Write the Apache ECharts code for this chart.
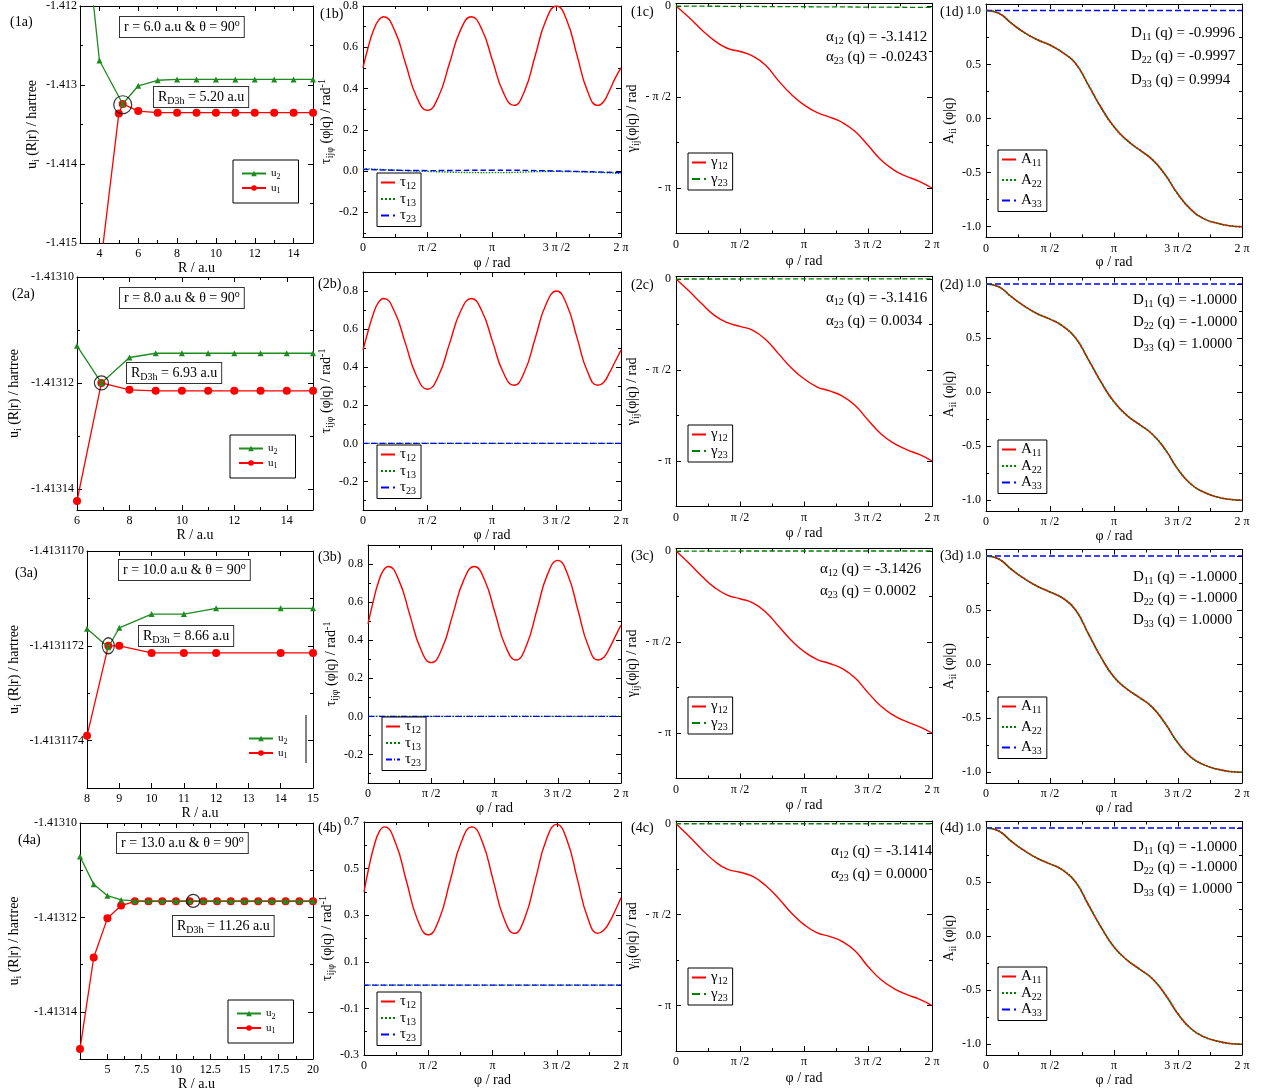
<!DOCTYPE html>
<html><head><meta charset="utf-8">
<script src="https://cdn.jsdelivr.net/npm/echarts/dist/echarts.min.js"></script>
<style>html,body{margin:0;padding:0;background:#fff}#c{width:1265px;height:1092px}</style>
</head><body><div id="c"></div>
<script>
// ---------------- DATA ----------------
// Column (a): adiabatic PES u1, u2 vs R
const R_u2_1 = [3,4,5.2,6,7,8,9,10,11,12,13,14,15];
const u2_1 = [-1.41035,-1.41269,-1.41324,-1.41301,-1.41294,-1.41293,-1.41293,-1.41293,-1.41293,-1.41293,-1.41293,-1.41293,-1.41293];
const R_u1_1 = [4,5,5.2,6,7,8,9,10,11,12,13,14,15];
const u1_1 = [-1.4154,-1.41336,-1.41324,-1.41333,-1.41335,-1.41335,-1.41335,-1.41335,-1.41335,-1.41335,-1.41335,-1.41335,-1.41335];
const R_2 = [6,6.93,8,9,10,11,12,13,14,15];
const u2_2 = [-1.413113,-1.41312,-1.4131152,-1.4131144,-1.4131144,-1.4131144,-1.4131144,-1.4131144,-1.4131144,-1.4131144];
const u1_2 = [-1.4131423,-1.41312,-1.4131213,-1.4131215,-1.4131215,-1.4131215,-1.4131215,-1.4131215,-1.4131215,-1.4131215];
const R_3 = [8,8.66,9,10,11,12,14,15];
const u2_3 = [-1.413117164,-1.413117203,-1.413117162,-1.413117133,-1.413117133,-1.413117121,-1.413117121,-1.413117121];
const u1_3 = [-1.41311739,-1.4131172,-1.4131172,-1.413117215,-1.413117215,-1.413117215,-1.413117215,-1.413117215];
const R_4 = [3,4,5,6,7,8,9,10,11,12,13,14,15,16,17,18,19,20];
const u2_4 = [-1.4131071,-1.413113,-1.4131154,-1.4131163,-1.4131165,-1.4131165,-1.4131165,-1.4131165,-1.4131165,-1.4131165,-1.4131165,-1.4131165,-1.4131165,-1.4131165,-1.4131165,-1.4131165,-1.4131165,-1.4131165];
const u1_4 = [-1.4131479,-1.4131285,-1.4131202,-1.4131175,-1.4131166,-1.4131166,-1.4131166,-1.4131166,-1.4131166,-1.4131166,-1.4131166,-1.4131166,-1.4131166,-1.4131166,-1.4131166,-1.4131166,-1.4131166,-1.4131166];
const D3h_R = [5.2, 6.93, 8.66, 11.26];
const D3h_u = [-1.41325, -1.41312, -1.4131172, -1.4131165];
const r_vals = ['6.0','8.0','10.0','13.0'];
const RD3h_txt = ['5.20','6.93','8.66','11.26'];

// Column (b): NACT tau vs phi (phi in units of pi)
const PHI_T = [0,0.04,0.08,0.12,0.16,0.245,0.33,0.415,0.5,0.585,0.67,0.755,0.84,0.9225,1.005,1.0875,1.17,1.2525,1.335,1.4175,1.5,1.58,1.66,1.74,1.82,1.865,1.91,1.955,2.0];
const tau12_1 = [0.50,0.60,0.68,0.73,0.748,0.682,0.521,0.360,0.294,0.360,0.521,0.682,0.748,0.685,0.533,0.381,0.318,0.388,0.559,0.730,0.800,0.730,0.559,0.388,0.318,0.336,0.389,0.45,0.50];
const tau12_2 = [0.49,0.59,0.68,0.74,0.761,0.691,0.5225,0.354,0.284,0.354,0.5225,0.691,0.761,0.694,0.533,0.372,0.305,0.377,0.5525,0.728,0.80,0.728,0.5525,0.377,0.305,0.32,0.37,0.43,0.49];
const tau12_3 = [0.486,0.60,0.70,0.765,0.787,0.713,0.5345,0.356,0.282,0.356,0.5345,0.713,0.787,0.715,0.5415,0.368,0.296,0.372,0.5575,0.743,0.819,0.743,0.5575,0.372,0.296,0.31,0.36,0.42,0.48];
const tau12_4 = [0.40,0.51,0.60,0.66,0.679,0.611,0.447,0.283,0.215,0.283,0.447,0.611,0.679,0.612,0.4505,0.289,0.222,0.290,0.456,0.622,0.690,0.622,0.456,0.290,0.222,0.235,0.27,0.32,0.375];
const PHI_S = [0,0.5,1,1.5,2];
const tau13_1 = [0.012,-0.002,-0.008,-0.002,-0.012];
const tau23_1 = [0.008,0.002,0.004,0.0,-0.008];
const tau_zero = [0,0,0,0,0];

// Column (c): ADT angle gamma vs phi (both in units of pi)
const PHI_G = [0,0.1,0.2,0.3,0.4,0.5,0.6,0.7,0.8,0.9,1.0,1.1,1.2,1.3,1.4,1.5,1.6,1.7,1.8,1.9,2.0];
const g12_1 = [0,-0.062,-0.13,-0.19,-0.232,-0.25,-0.275,-0.325,-0.41,-0.485,-0.543,-0.585,-0.61,-0.64,-0.69,-0.765,-0.845,-0.9,-0.936,-0.963,-1.0];
const g12_2 = [0,-0.065,-0.135,-0.2,-0.24,-0.26,-0.282,-0.332,-0.41,-0.487,-0.548,-0.592,-0.615,-0.644,-0.695,-0.775,-0.85,-0.902,-0.937,-0.964,-1.0];
const g12_3 = [0,-0.066,-0.137,-0.2,-0.242,-0.262,-0.285,-0.335,-0.412,-0.49,-0.552,-0.595,-0.618,-0.646,-0.698,-0.778,-0.852,-0.903,-0.938,-0.965,-1.0];
const g12_4 = [0,-0.068,-0.14,-0.205,-0.25,-0.267,-0.29,-0.34,-0.41,-0.49,-0.555,-0.599,-0.62,-0.648,-0.70,-0.785,-0.857,-0.905,-0.939,-0.965,-1.0];
const PHI_E = [0,2];
const g23_1 = [0,-0.0077];
const g23_2 = [0,0.0011];
const g23_3 = [0,0.0001];
const g23_4 = [0,0];
const alpha12 = ['-3.1412','-3.1416','-3.1426','-3.1414'];
const alpha23 = ['-0.0243','0.0034','0.0002','0.0000'];

// Column (d): ADT matrix diagonal elements
const a11_1 = [1.0,0.975,0.88,0.795,0.73,0.68,0.61,0.51,0.31,0.10,-0.075,-0.20,-0.29,-0.38,-0.52,-0.70,-0.84,-0.925,-0.966,-0.992,-1.0];
const a11_2 = [1.0,0.974,0.88,0.795,0.725,0.675,0.61,0.50,0.30,0.09,-0.09,-0.215,-0.30,-0.39,-0.53,-0.715,-0.85,-0.925,-0.968,-0.992,-1.0];
const a11_3 = [1.0,0.972,0.875,0.79,0.72,0.667,0.61,0.50,0.28,0.06,-0.12,-0.23,-0.31,-0.40,-0.55,-0.73,-0.86,-0.93,-0.97,-0.993,-1.0];
const a11_4 = [1.0,0.972,0.875,0.79,0.72,0.668,0.61,0.50,0.29,0.08,-0.10,-0.22,-0.305,-0.395,-0.54,-0.72,-0.855,-0.93,-0.97,-0.993,-1.0];
const a22_1 = a11_1, a22_2 = a11_2, a22_3 = a11_3, a22_4 = a11_4;
const a33_1 = [1,0.9994];
const a33_n = [1,1];
const D11 = ['-0.9996','-1.0000','-1.0000','-1.0000'];
const D22 = ['-0.9997','-1.0000','-1.0000','-1.0000'];
const D33 = ['0.9994','1.0000','1.0000','1.0000'];

// tick values
const TK_PI = [0,0.5,1,1.5,2];
const TK_PI_MINOR = [0.25,0.75,1.25,1.75];
const TK_B = [-0.2,0,0.2,0.4,0.6,0.8];
const TK_B_MINOR = [-0.3,-0.1,0.1,0.3,0.5,0.7];
const TK_B4 = [-0.3,-0.1,0.1,0.3,0.5,0.7];
const TK_B4_MINOR = [-0.2,0,0.2,0.4,0.6];
const TK_C = [-1,-0.5,0];
const TK_C_MINOR = [-1.25,-0.75,-0.25];
const TK_D = [-1,-0.5,0,0.5,1];
const TK_D_MINOR = [-0.75,-0.25,0.25,0.75];

// ---------------- BUILD ----------------
const F = 'Liberation Serif';
const RED = '#ff0000', GRN = '#008000', BLU = '#0000ff', AGRN = '#1f8a1f';
const opt = {animation:false, backgroundColor:'#ffffff', textStyle:{fontFamily:F},
  grid:[], xAxis:[], yAxis:[], series:[], legend:[], graphic:{elements:[]}};

function mkRich(sz){
  const sub = Math.max(8, Math.round(sz*0.68));
  const sh = Math.round(sz*0.55);
  return {
    m:{fontFamily:F,fontSize:sz,color:'#000'},
    s:{fontFamily:F,fontSize:sub,color:'#000',padding:[sh,0,0,0]},
    p:{fontFamily:F,fontSize:sub,color:'#000',padding:[0,0,sh,0]}
  };
}
const LEG = {u1:'{m|u}{s|1}', u2:'{m|u}{s|2}', t12:'{m|τ}{s|12}', t13:'{m|τ}{s|13}', t23:'{m|τ}{s|23}',
  g12:'{m|γ}{s|12}', g23:'{m|γ}{s|23}', A11:'{m|A}{s|11}', A22:'{m|A}{s|22}', A33:'{m|A}{s|33}'};

const piX = v => ({'0.00':'0','0.50':'π /2','1.00':'π','1.50':'3 π /2','2.00':'2 π'})[v.toFixed(2)] || '';
const piY = v => ({'0.00':'0','-0.50':'- π /2','-1.00':'- π'})[v.toFixed(2)] || '';

function addAxes(kind, gi, ax){
  const arr = kind==='x' ? opt.xAxis : opt.yAxis;
  const sides = kind==='x' ? ['bottom','top'] : ['left','right'];
  const idx = arr.length;
  sides.forEach((side, si) => {
    const main = si === 0;
    arr.push({type:'value', gridIndex:gi, position:side, min:ax.min, max:ax.max,
      splitLine:{show:false},
      axisLine:{show:true, onZero:false, lineStyle:{color:'#000', width:1}},
      axisTick:{show:true, inside:true, length:5, customValues:ax.major, lineStyle:{color:'#000', width:1}},
      axisLabel: main ? {show:true, customValues:ax.major, formatter:ax.fmt, fontFamily:F, fontSize:12, color:'#000', margin:ax.lm||5} : {show:false},
      name: main ? ax.name : '', nameLocation:'middle', nameGap:ax.gap,
      nameTextStyle:{fontFamily:F, fontSize:14, color:'#000', rich:mkRich(14)}
    });
    if (ax.minor && ax.minor.length) {
      arr.push({type:'value', gridIndex:gi, position:side, min:ax.min, max:ax.max,
        splitLine:{show:false}, axisLine:{show:false, onZero:false},
        axisTick:{show:true, inside:true, length:3, customValues:ax.minor, lineStyle:{color:'#000', width:1}},
        axisLabel:{show:false}});
    }
  });
  return idx;
}
function addPanel(g, xa, ya){
  const gi = opt.grid.length;
  opt.grid.push({left:g.l, top:g.t, width:g.r-g.l, height:g.b-g.t});
  const xi = addAxes('x', gi, xa);
  const yi = addAxes('y', gi, ya);
  return [xi, yi];
}
function addLine(ax, name, xs, ys, st){
  opt.series.push({type:'line', name, xAxisIndex:ax[0], yAxisIndex:ax[1],
    data: xs.map((x,i)=>[x, ys[i]]),
    symbol: st.symbol || 'none', symbolSize: st.size || 0, showSymbol: !!st.symbol,
    smooth: st.smooth || false,
    lineStyle:{color:st.color, width:st.w || 1.3, type:st.type || 'solid'},
    itemStyle:{color:st.color}, clip:true, z:st.z || 2, silent:true, animation:false});
}
function addCircle(ax, x, y, size){
  opt.series.push({type:'scatter', xAxisIndex:ax[0], yAxisIndex:ax[1], data:[[x,y]], symbol:'circle',
    symbolSize:size, itemStyle:{color:'rgba(0,0,0,0)', borderColor:'#000', borderWidth:1.2}, z:6, silent:true});
}
function addLegend(names, left, top, o){
  o = o || {};
  const lg = {data:names.map(n=>({name:n})), left, top, orient:'vertical', selectedMode:false,
    itemGap:o.gap ?? 0, itemWidth:o.iw || 16, itemHeight:o.ih || 10, padding:o.pad || [2,5,2,3],
    borderColor:'#000', borderWidth:o.bw ?? 1, backgroundColor:'#fff', z:20,
    formatter:n => LEG[n.split('_')[0]],
    textStyle:{fontFamily:F, fontSize:o.fs || 15, color:'#000', rich:mkRich(o.fs || 15)}};
  if (o.noSym) lg.itemStyle = {opacity:0, borderWidth:0};
  opt.legend.push(lg);
}
function addText(x, y, str, sz, o){
  o = o || {};
  const el = {type:'text', x, y, z:100, style:{text:str, rich:mkRich(sz), fontFamily:F, fontSize:sz, fill:'#000',
    align:o.align || 'left', verticalAlign:'middle', textAlign:o.align || 'left', textVerticalAlign:'middle'}};
  if (o.box) Object.assign(el.style, {borderColor:'#333', borderWidth:1, padding:[1,4,1,4], backgroundColor:'#fff'});
  opt.graphic.elements.push(el);
}

// layout per row
const L = [
 {a:{l:80,r:313,t:5,b:243,xg:11,yg:39,rb:[120,27],db:[154,97],leg:[233,160],circ:18,lab:[10,22]},
  b:{l:363,r:621,t:6,b:237,xg:19,yg:27,leg:[377,173],lab:[320,14]},
  c:{l:676,r:932,t:3.3,b:233.5,xg:21,yg:32,leg:[688,153],tx:[826,37,57],lab:[631,12]},
  d:{l:986,r:1242,t:4,b:237.5,xg:17,yg:23,leg:[998,150],tx:[1131,33,56,80],lab:[940,12]}},
 {a:{l:77,r:313,t:277,b:510,xg:17,yg:54,rb:[120,298],db:[127,373],leg:[230,435],circ:14,lab:[12,294]},
  b:{l:363,r:621,t:272,b:510,xg:17,yg:27,leg:[377,445],lab:[318,284]},
  c:{l:676,r:932,t:276.3,b:506.5,xg:20,yg:32,leg:[688,425],tx:[826,298,321],lab:[631,285]},
  d:{l:986,r:1242,t:277.5,b:511,xg:16,yg:23,leg:[998,440],tx:[1133,300,322,344],lab:[940,285]}},
 {a:{l:87,r:313,t:551,b:788,xg:12,yg:64,rb:[119,570],db:[139,636],leg:[240,725],circ:[12,16],lab:[15,573]},
  b:{l:368,r:621,t:545,b:783,xg:16,yg:27,leg:[382,717],lab:[318,557]},
  c:{l:676,r:932,t:548.3,b:778.5,xg:20,yg:32,leg:[688,697],tx:[820,569,591],lab:[631,556]},
  d:{l:986,r:1242,t:549.5,b:783,xg:16,yg:23,leg:[998,697],tx:[1133,577,598,620],lab:[940,556]}},
 {a:{l:80,r:313,t:823,b:1059,xg:13,yg:57,rb:[117,843],db:[173,926],leg:[228,1000],circ:13,lab:[18,840]},
  b:{l:364,r:621,t:822,b:1055,xg:16,yg:27,leg:[377,992],lab:[318,828]},
  c:{l:676,r:932,t:821,b:1051,xg:20,yg:32,leg:[688,968],tx:[831,851,874],lab:[631,828]},
  d:{l:986,r:1242,t:821.5,b:1055,xg:16,yg:23,leg:[998,967],tx:[1133,847,867,889],lab:[940,828]}}
];

const A_DATA = [
 {xa:{min:3,max:15,major:[4,6,8,10,12,14],minor:[5,7,9,11,13]}, ya:{min:-1.415,max:-1.412,major:[-1.415,-1.414,-1.413,-1.412],minor:[-1.4145,-1.4135,-1.4125],d:3},
  u2x:R_u2_1,u2:u2_1,u1x:R_u1_1,u1:u1_1},
 {xa:{min:6,max:15,major:[6,8,10,12,14],minor:[7,9,11,13]}, ya:{min:-1.413144,max:-1.4131,major:[-1.41314,-1.41312,-1.4131],minor:[-1.41313,-1.41311],d:5},
  u2x:R_2,u2:u2_2,u1x:R_2,u1:u1_2},
 {xa:{min:8,max:15,major:[8,9,10,11,12,13,14,15],minor:[]}, ya:{min:-1.4131175,max:-1.413117,major:[-1.4131174,-1.4131172,-1.413117],minor:[-1.4131173,-1.4131171],d:7},
  u2x:R_3,u2:u2_3,u1x:R_3,u1:u1_3},
 {xa:{min:3,max:20,major:[5,7.5,10,12.5,15,17.5,20],minor:[6.25,8.75,11.25,13.75,16.25,18.75]}, ya:{min:-1.41315,max:-1.4131,major:[-1.41314,-1.41312,-1.4131],minor:[-1.41313,-1.41311],d:5},
  u2x:R_4,u2:u2_4,u1x:R_4,u1:u1_4}
];
const TAU12 = [tau12_1,tau12_2,tau12_3,tau12_4];
const TAU13 = [tau13_1,tau_zero,tau_zero,tau_zero];
const TAU23 = [tau23_1,tau_zero,tau_zero,tau_zero];
const B_Y = [[-0.32,0.8],[-0.35,0.9],[-0.35,0.9],[-0.3,0.7]];
const G12 = [g12_1,g12_2,g12_3,g12_4];
const G23 = [g23_1,g23_2,g23_3,g23_4];
const A11 = [a11_1,a11_2,a11_3,a11_4];
const A22 = [a22_1,a22_2,a22_3,a22_4];
const A33 = [a33_1,a33_n,a33_n,a33_n];

for (let i = 0; i < 4; i++) {
  const n = i + 1, lay = L[i];
  // ---- (a)
  {
    const g = lay.a, D = A_DATA[i];
    const ax = addPanel(g,
      Object.assign({}, D.xa, {fmt:v=>String(v), name:'R / a.u', gap:g.xg}),
      Object.assign({}, D.ya, {fmt:v=>v.toFixed(D.ya.d), name:'{m|u}{s|i}{m| (R|r) / hartree}', gap:g.yg, lm:3}));
    addLine(ax, 'u1_'+n, D.u1x, D.u1, {color:RED, symbol:'circle', size:8, w:1.3, z:3});
    addLine(ax, 'u2_'+n, D.u2x, D.u2, {color:AGRN, symbol:'triangle', size:6, w:1.3, z:4});
    addCircle(ax, D3h_R[i], D3h_u[i], g.circ);
    addLegend(['u2_'+n,'u1_'+n], g.leg[0], g.leg[1], {iw:24, ih:7, gap:2, pad:[8,18,8,8], fs:11, bw: i===2?0:1});
    addText(g.rb[0], g.rb[1], '{m|r = '+r_vals[i]+' a.u & θ = 90}{p|o}', 14, {box:true});
    addText(g.db[0], g.db[1], '{m|R}{s|D3h}{m| = '+RD3h_txt[i]+' a.u}', 14, {box:true});
    addText(g.lab[0], g.lab[1], '{m|('+n+'a)}', 14);
  }
  // ---- (b)
  {
    const g = lay.b;
    const ya = i===3 ? {major:TK_B4, minor:TK_B4_MINOR} : {major:TK_B, minor:TK_B_MINOR};
    const ax = addPanel(g,
      {min:0, max:2, major:TK_PI, minor:TK_PI_MINOR, fmt:piX, name:'φ / rad', gap:g.xg},
      Object.assign(ya, {min:B_Y[i][0], max:B_Y[i][1], fmt:v=>v.toFixed(1), name:'{m|τ}{s|ijφ}{m| (φ|q) / rad}{p|-1}', gap:g.yg}));
    addLine(ax, 't12_'+n, PHI_T, TAU12[i], {color:RED, smooth:true, w:1.4});
    addLine(ax, 't13_'+n, PHI_S, TAU13[i], {color:GRN, type:'dotted', smooth:true, w:1.4});
    addLine(ax, 't23_'+n, PHI_S, TAU23[i], {color:BLU, type: i===2 ? [6,2,1,2] : 'dashed', smooth:true, w:1.4});
    addLegend(['t12_'+n,'t13_'+n,'t23_'+n], g.leg[0], g.leg[1], {iw:14, ih:8, gap:0, noSym:true});
    addText(g.lab[0], g.lab[1], '{m|('+n+'b)}', 14);
  }
  // ---- (c)
  {
    const g = lay.c;
    const ax = addPanel(g,
      {min:0, max:2, major:TK_PI, minor:TK_PI_MINOR, fmt:piX, name:'φ / rad', gap:g.xg},
      {min:-1.25, max:0.015, major:TK_C, minor:TK_C_MINOR, fmt:piY, name:'{m|γ}{s|ij}{m|(φ|q) / rad}', gap:g.yg});
    addLine(ax, 'g12_'+n, PHI_G, G12[i], {color:RED, smooth:true, w:1.4});
    addLine(ax, 'g23_'+n, PHI_E, G23[i], {color:GRN, type:'dashed', w:1.3});
    addLegend(['g12_'+n,'g23_'+n], g.leg[0], g.leg[1], {iw:14, ih:8, gap:0, noSym:true});
    addText(g.tx[0], g.tx[1], '{m|α}{s|12}{m| (q) = '+alpha12[i]+'}', 15);
    addText(g.tx[0], g.tx[2], '{m|α}{s|23}{m| (q) = '+alpha23[i]+'}', 15);
    addText(g.lab[0], g.lab[1], '{m|('+n+'c)}', 14);
  }
  // ---- (d)
  {
    const g = lay.d;
    const ax = addPanel(g,
      {min:0, max:2, major:TK_PI, minor:TK_PI_MINOR, fmt:piX, name:'φ / rad', gap:g.xg},
      {min:-1.1, max:1.06, major:TK_D, minor:TK_D_MINOR, fmt:v=>v.toFixed(1), name:'{m|A}{s|ii}{m| (φ|q)}', gap:g.yg});
    addLine(ax, 'A11_'+n, PHI_G, A11[i], {color:RED, smooth:true, w:1.6});
    addLine(ax, 'A22_'+n, PHI_G, A22[i], {color:GRN, type:'dotted', smooth:true, w:1.6, z:3});
    addLine(ax, 'A33_'+n, PHI_E, A33[i], {color:BLU, type:'dashed', w:1.5});
    addLegend(['A11_'+n,'A22_'+n,'A33_'+n], g.leg[0], g.leg[1], {iw:14, ih:8, gap: (i===0||i===2)?4:0, noSym:true});
    addText(g.tx[0], g.tx[1], '{m|D}{s|11}{m| (q) = '+D11[i]+'}', 15);
    addText(g.tx[0], g.tx[2], '{m|D}{s|22}{m| (q) = '+D22[i]+'}', 15);
    addText(g.tx[0], g.tx[3], '{m|D}{s|33}{m| (q) = '+D33[i]+'}', 15);
    addText(g.lab[0], g.lab[1], '{m|('+n+'d)}', 14);
  }
}
opt.graphic.elements.push({type:'line', shape:{x1:306,y1:715,x2:306,y2:763}, style:{stroke:'#000', lineWidth:1}, z:100});

const chart = echarts.init(document.getElementById('c'), null, {renderer:'canvas'});
chart.setOption(opt);
</script></body></html>
